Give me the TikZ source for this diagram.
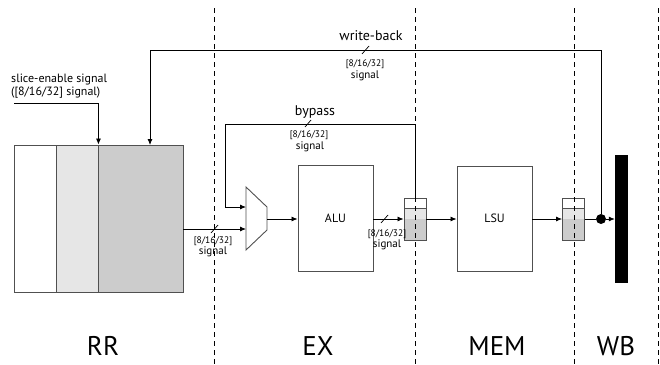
\documentclass[tikz,border=0pt]{standalone}
\usepackage{fontspec}
\setmainfont{PT Sans}
\usepackage{tikz}
\usetikzlibrary{arrows.meta,positioning}
\usetikzlibrary{calc}
\usepackage{xcolor}

\definecolor{boxgray}{HTML}{505050}
\definecolor{reglight}{HTML}{E6E6E6}
\definecolor{regdark}{HTML}{CCCCCC}

\begin{document}
\begin{tikzpicture}[
  x=1pt, y=-1pt,
  unit/.style={draw=boxgray, line width=0.9pt, inner sep=0pt, font=\fontsize{12}{12}\selectfont},
  preg/.style={draw=boxgray, line width=0.9pt, minimum width=22pt, minimum height=42pt, inner sep=0pt,
    path picture={
      \fill[reglight] ([yshift=-10pt]path picture bounding box.north west) rectangle (path picture bounding box.east);
      \fill[regdark] (path picture bounding box.west) rectangle (path picture bounding box.south east);
      \draw[boxgray, line width=0.9pt] ([yshift=-10pt]path picture bounding box.north west) -- ([yshift=-10pt]path picture bounding box.north east);
    }},
  wire/.style={line width=0.8pt},
  arr/.style={wire, -{Latex[length=6pt,width=5pt]}},
  slash/.style={line width=0.7pt},
  stage/.style={line width=0.8pt, dash pattern=on 5pt off 4pt},
  lbl/.style={inner sep=0pt, font=\fontsize{14}{14}\selectfont},
  width/.style={inner sep=0pt, font=\fontsize{9.5}{9.5}\selectfont},
  sig/.style={inner sep=0pt, font=\fontsize{11}{11}\selectfont},
  stagename/.style={inner sep=0pt, font=\fontsize{27}{27}\selectfont}
]
\useasboundingbox (0,0) rectangle (660,364);

% ==================
% Register read (RR)
% ==================
\node[unit, fill=white, minimum width=42pt, minimum height=147pt] (rfA) at (35,218.5) {};
\node[unit, fill=reglight, minimum width=42pt, minimum height=147pt] (rfB) at (77,218.5) {};
\node[unit, fill=regdark, minimum width=85pt, minimum height=147pt] (rfC) at (140.5,218.5) {};

\coordinate (se) at (14,103);
\node[inner sep=0pt, anchor=south west, font=\fontsize{12}{13}\selectfont, align=left] (setext) at (11,98)
  {slice-enable signal\\([8/16/32] signal)};
\draw[arr] (se) -| (rfB.north east);

% ==================
% Execute (EX)
% ==================
\draw[boxgray, line width=0.9pt] (246,187) -- (267,207) -- (267,230) -- (246,250) -- cycle;
\coordinate (muxin1) at (246,207);
\coordinate (muxin2) at (246,229);
\coordinate (muxout) at (267,219);

\node[unit, minimum width=75pt, minimum height=106pt] (alu) at (335.5,218) {ALU};
\node[preg] (p1) at (415,219) {};

\draw[arr] (rfC.east |- muxin2) -- (muxin2);
\draw[arr] (muxout) -- (alu.west |- muxout);
\draw[arr] (alu.east |- p1.west) -- (p1.west);

% bypass
\coordinate (byp) at (225,124);
\draw[arr] (p1.north) |- (byp) |- (muxin1);
\node[lbl] (bypasstext) at (315,112) {bypass};
\draw[slash] (305,127) -- (311,120);
\node[width] (bw1) at (309,135) {[8/16/32]};
\node[sig] (bs1) at (310,147) {signal};

% widths
\draw[slash] (211,233) -- (218,225);
\node[width] (bw2) at (213,241) {[8/16/32]};
\node[sig] (bs2) at (213,252) {signal};

\draw[slash] (381,223) -- (388,215);
\node[width] (bw3) at (387,234) {[8/16/32]};
\node[sig] (bs3) at (387,245) {signal};

% ==================
% Memory (MEM)
% ==================
\node[unit, minimum width=75pt, minimum height=105pt] (lsu) at (494.5,218.5) {LSU};
\node[preg] (p2) at (573.5,219) {};

\draw[arr] (p1.east) -- (lsu.west |- p1.east);
\draw[arr] (lsu.east |- p2.west) -- (p2.west);

% ==================
% Write-back (WB)
% ==================
\node[draw, fill=black, minimum width=12pt, minimum height=127pt, inner sep=0pt] (wbbar) at (621,218.5) {};
\node[circle, fill=black, inner sep=0pt, minimum size=10pt] (dot) at (601,219) {};
\draw[wire] (p2.east) -- (dot);
\draw[arr] (dot) -- (wbbar.west |- dot);

\coordinate (wb) at (150,50);
\coordinate (rfwb) at (150,145);
\draw[arr] (dot) |- (wb) -- (rfwb);
\node[lbl] (wbtext) at (371,36) {write-back};
\draw[slash] (362,54) -- (369,46);
\node[width] (bw4) at (365,64) {[8/16/32]};
\node[sig] (bs4) at (365,76) {signal};

% ==================
% Stages
% ==================
\foreach \x in {214,415,574,658}
  \draw[stage] (\x,8) -- (\x,364);

\node[stagename] (rr) at (103,346) {RR};
\node[stagename] (ex) at (318,346) {EX};
\node[stagename] (mem) at (497,346) {MEM};
\node[stagename] (wbs) at (616,346) {WB};
\end{tikzpicture}
\end{document}
